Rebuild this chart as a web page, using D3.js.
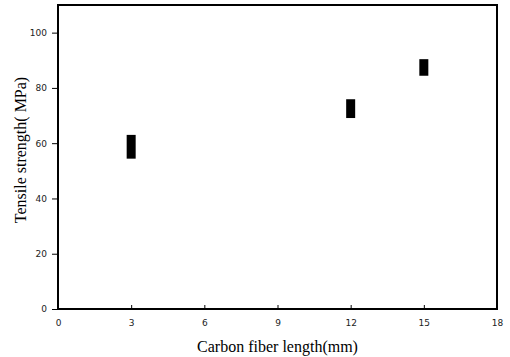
<!DOCTYPE html>
<html><head><meta charset="utf-8">
<script src="https://cdn.jsdelivr.net/npm/d3@7"></script>
<style>body{margin:0;background:#fff}svg{display:block}</style>
</head><body>
<script>
const fiberLength = [3, 12, 15];
const strengthMean = [58.7, 72.5, 87.4];
const strengthErr = [4.3, 3.4, 3.0];
const xTicks = [0, 3, 6, 9, 12, 15, 18];
const yTicks = [0, 20, 40, 60, 80, 100];

const W = 510, H = 357;
const m = {left: 58, top: 5, right: 13, bottom: 48};
const svg = d3.select("body").append("svg").attr("width", W).attr("height", H);
const x = d3.scaleLinear().domain([0, 18]).range([m.left, W - m.right]);
const y = d3.scaleLinear().domain([0, 110]).range([H - m.bottom, m.top]);

const tickFont = "'DejaVu Sans', Verdana, sans-serif";
const gx = svg.append("g").attr("transform", `translate(0,${H - m.bottom})`)
  .call(d3.axisBottom(x).tickValues(xTicks).tickSize(-4).tickPadding(11).tickFormat(d3.format("d")));
const gy = svg.append("g").attr("transform", `translate(${m.left},0)`)
  .call(d3.axisLeft(y).tickValues(yTicks).tickSize(6).tickPadding(5).tickFormat(d3.format("d")));
[gx, gy].forEach(g => {
  g.select(".domain").remove();
  g.selectAll(".tick line").attr("stroke", "#000").attr("stroke-width", 1);
  g.selectAll(".tick text").attr("fill", "#222").style("font-family", tickFont).style("font-size", "9px");
});
gx.selectAll(".tick").filter(d => d === 0 || d === 18).select("line").remove();

svg.append("rect").attr("x", m.left).attr("y", m.top)
  .attr("width", W - m.left - m.right).attr("height", H - m.top - m.bottom)
  .attr("fill", "none").attr("stroke", "#000").attr("stroke-width", 2);

svg.append("g").selectAll("rect").data(fiberLength).join("rect")
  .attr("x", (d) => x(d) - 4.5)
  .attr("width", 9)
  .attr("y", (d, i) => y(strengthMean[i] + strengthErr[i]))
  .attr("height", (d, i) => y(strengthMean[i] - strengthErr[i]) - y(strengthMean[i] + strengthErr[i]))
  .attr("fill", "#000");

const serif = "'Liberation Serif', 'Times New Roman', serif";
svg.append("text").attr("x", (m.left + W - m.right) / 2).attr("y", 352)
  .attr("text-anchor", "middle").style("font-family", serif).style("font-size", "16px")
  .text("Carbon fiber length(mm)");
svg.append("text").attr("transform", `translate(26,150) rotate(-90)`)
  .attr("text-anchor", "middle").style("font-family", serif).style("font-size", "16px")
  .text("Tensile strength( MPa)");
</script>
</body></html>
